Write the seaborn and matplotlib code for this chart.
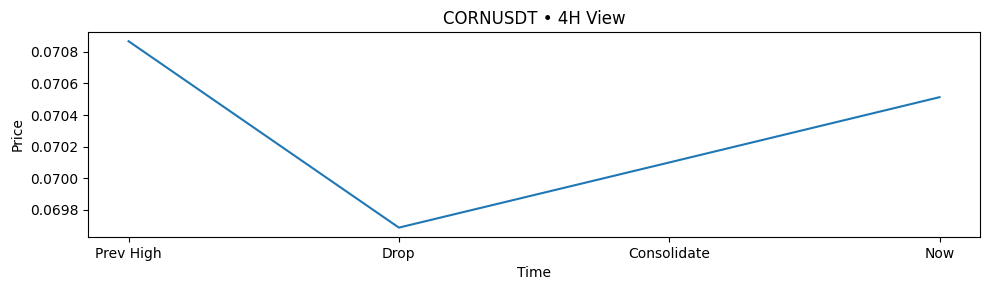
import matplotlib
matplotlib.use("Agg")
import matplotlib.pyplot as plt
import matplotlib.ticker as mticker
import seaborn as sns
import pandas as pd

stages = ["Prev High", "Drop", "Consolidate", "Now"]
prices = [0.070867, 0.069688, 0.070100, 0.070513]

df = pd.DataFrame({"Time": stages, "Price": prices})

fig, ax = plt.subplots(figsize=(9.89, 2.9), dpi=100)
sns.lineplot(data=df, x="Time", y="Price", ax=ax, sort=False)
ax.set_title("CORNUSDT • 4H View")
ax.set_xlabel("Time")
ax.set_ylabel("Price")
ax.yaxis.set_major_locator(mticker.MultipleLocator(0.0002))
ax.yaxis.set_major_formatter(mticker.FormatStrFormatter("%.4f"))
fig.subplots_adjust(left=0.089, right=0.991, top=0.89, bottom=0.183)
fig.savefig("out.png", dpi=100)
